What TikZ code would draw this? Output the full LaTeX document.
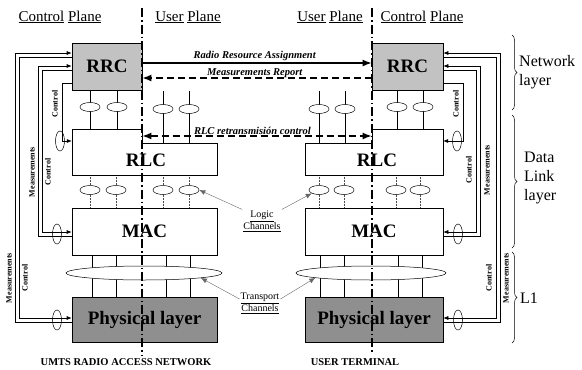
\documentclass[tikz,border=0pt]{standalone}
\usepackage{fontspec}
\setmainfont{Liberation Serif}
\usetikzlibrary{positioning,arrows.meta,shapes.geometric,decorations.pathreplacing}
\tikzset{
  stack/.style  ={rectangle, draw=black, line width=0.6pt, fill=white, inner sep=0pt},
  shade1/.style ={stack, fill=black!24},
  shade2/.style ={stack, fill=black!44},
  outline/.style={draw=black, line width=0.6pt, fill=white},
  big/.style    ={font=\fontsize{19}{19}\selectfont\bfseries, inner sep=0pt},
  chan/.style   ={ellipse, draw=black, line width=0.5pt, fill=white,
                  minimum width=20pt, minimum height=9pt, inner sep=0pt},
  tube/.style   ={ellipse, draw=black, line width=0.5pt,
                  minimum width=9pt, minimum height=20pt, inner sep=0pt},
  bundle/.style ={ellipse, draw=black, line width=0.5pt, fill=white,
                  minimum width=156pt, minimum height=14pt, inner sep=0pt},
  wire/.style   ={draw=black, line width=0.5pt},
  dwire/.style  ={draw=black!70, line width=0.5pt, densely dotted},
  ctl/.style    ={draw=black, line width=0.6pt, -{Latex[length=5pt,width=4pt]}},
  plane/.style  ={draw=black, line width=1.3pt,
                  dash pattern=on 9pt off 3pt on 1.5pt off 3pt},
  peer/.style   ={draw=black, line width=1.6pt, -{Latex[length=9pt,width=7pt]}},
  dpeer/.style  ={peer, dash pattern=on 7pt off 4pt},
  twoway/.style ={dpeer, {Latex[length=9pt,width=7pt]}-{Latex[length=9pt,width=7pt]}},
  msg/.style    ={font=\fontsize{10.5}{11}\selectfont\bfseries\itshape, inner sep=0pt},
  side/.style   ={font=\fontsize{8}{8}\selectfont\bfseries, rotate=90, inner sep=0pt},
  head/.style   ={font=\fontsize{15}{15}\selectfont, inner sep=0pt},
  foot/.style   ={font=\fontsize{10.5}{11}\selectfont\bfseries, inner sep=0pt},
  note/.style   ={font=\fontsize{10}{12}\selectfont, align=center, inner sep=1pt},
  ptr/.style    ={draw=black!60, line width=0.4pt, -{Latex[length=6pt,width=5pt]}},
  layerlbl/.style={font=\fontsize{16}{19}\selectfont, align=left, anchor=west, inner sep=0pt},
  brc/.style    ={draw=black, line width=0.5pt, decorate,
                  decoration={brace, amplitude=5pt}}
}
\begin{document}
\begin{tikzpicture}[x=1pt,y=-1pt]
\useasboundingbox (0,0) rectangle (582,370);

%% ---- Plane headers -------------------------------------------------
\node[head] (cpL) at (60,17) {\underline{Control} \underline{Plane}};
\node[head] (upL) at (188,17) {\underline{User} \underline{Plane}};
\node[head] (upR) at (330,17) {\underline{User} \underline{Plane}};
\node[head] (cpR) at (422,17) {\underline{Control} \underline{Plane}};

%% ---- Channel stubs -------------------------------------------------
\foreach \x [count=\i] in {90,117} {
  \draw[wire] (\x,90) -- (\x,129);
  \node[chan] (ccL\i) at (\x,107) {};
}
\foreach \x [count=\i] in {163,189} {
  \draw[wire] (\x,91) -- (\x,143);
  \node[chan] (cuL\i) at (\x,109) {};
}
\foreach \x [count=\i] in {319,345} {
  \draw[wire] (\x,91) -- (\x,143);
  \node[chan] (cuR\i) at (\x,109) {};
}
\foreach \x [count=\i] in {397,423} {
  \draw[wire] (\x,90) -- (\x,129);
  \node[chan] (ccR\i) at (\x,107) {};
}
\foreach \x [count=\i] in {90,116,163,189} {
  \draw[dwire] (\x,175) -- (\x,208);
  \node[chan] (lcL\i) at (\x,190) {};
}
\foreach \x [count=\i] in {319,344,396,420} {
  \draw[dwire] (\x,175) -- (\x,208);
  \node[chan] (lcR\i) at (\x,190) {};
}
\foreach \x in {92,116,166,190,320,344,398,422}
  \draw[wire] (\x,255) -- (\x,297);
\node[bundle] (trL) at (144,273) {};
\node[bundle, minimum width=150pt] (trR) at (371,273) {};

%% ---- UMTS radio access network stack -------------------------------
\node[shade1, big, minimum width=70pt, minimum height=47pt] (rrcL) at (107,66.5) {RRC};
\draw[outline] (72,129) -- (142,129) -- (142,143) -- (217,143) -- (217,175)
  -- (72,175) -- cycle;
\node[minimum width=145pt, minimum height=46pt, inner sep=0pt] (rlcL) at (144.5,152) {};
\node[big] (rlcLtxt) at (146,160) {RLC};
\node[stack, big, minimum width=145pt, minimum height=47pt] (macL) at (144.5,231.5) {MAC};
\node[shade2, big, minimum width=145pt, minimum height=45pt] (physL) at (144.5,319.5)
  {Physical layer};

%% ---- User terminal stack -------------------------------------------
\node[shade1, big, minimum width=71pt, minimum height=47pt] (rrcR) at (407.5,66.5) {RRC};
\draw[outline] (305,143) -- (372,143) -- (372,129) -- (443,129) -- (443,175)
  -- (305,175) -- cycle;
\node[minimum width=138pt, minimum height=46pt, inner sep=0pt] (rlcR) at (374,152) {};
\node[big] (rlcRtxt) at (377,160) {RLC};
\node[stack, big, minimum width=138pt, minimum height=47pt] (macR) at (374,231.5) {MAC};
\node[shade2, big, minimum width=138pt, minimum height=45pt] (physR) at (374,319.5)
  {Physical layer};

%% ---- Peer to peer signalling ---------------------------------------
\draw[peer] (rrcL.east |- 0,63) --
  node[msg, above=1.5pt, pos=0.49] (rraLbl) {Radio Resource Assignment}
  (rrcR.west |- 0,63);
\draw[dpeer] (rrcR.west |- 0,78) --
  node[msg, above=-1pt, pos=0.51] (mrLbl) {Measurements Report}
  (rrcL.east |- 0,78);
\draw[twoway] (rrcL.east |- 0,136) --
  node[msg, above=1pt, pos=0.48] (rtxLbl) {RLC retransmisión control}
  (rrcR.west |- 0,136);

%% ---- Control / measurement loops, network side ---------------------
\draw[ctl] (physL.west |- 0,322) -| (15,53) -- (rrcL.west |- 0,53);
\draw[ctl] (rrcL.west |- 0,57) -| (19,318) -- (physL.west |- 0,318);
\draw[ctl] (macL.west |- 0,236) -| (38,66) -- (rrcL.west |- 0,66);
\draw[ctl] (rrcL.west |- 0,70) -| (42,232) -- (macL.west |- 0,232);
\draw[ctl] (rrcL.west |- 0,83) -| (62,141) -- (rlcL.west |- 0,141);
\node[tube] (tpL) at (57,320) {};
\node[tube] (tmL) at (57,234) {};
\node[tube] (trlL) at (60,141) {};
\node[side] (msAL) at (9,278) {Measurements};
\node[side] (ctAL) at (25,278) {Control};
\node[side] (msBL) at (32,172) {Measurements};
\node[side] (ctBL) at (48,172) {Control};
\node[side] (ctCL) at (55,104) {Control};

%% ---- Control / measurement loops, terminal side --------------------
\draw[ctl] (physR.east |- 0,322) -| (500,53) -- (rrcR.east |- 0,53);
\draw[ctl] (rrcR.east |- 0,57) -| (496,318) -- (physR.east |- 0,318);
\draw[ctl] (macR.east |- 0,236) -| (480,66) -- (rrcR.east |- 0,66);
\draw[ctl] (rrcR.east |- 0,70) -| (476,232) -- (macR.east |- 0,232);
\draw[ctl] (rrcR.east |- 0,83) -| (463,141) -- (rlcR.east |- 0,141);
\node[tube] (tpR) at (458,320) {};
\node[tube] (tmR) at (458,234) {};
\node[tube] (trlR) at (457,141) {};
\node[side] (ctAR) at (489,278) {Control};
\node[side] (msAR) at (506,278) {Measurements};
\node[side] (ctBR) at (469,170) {Control};
\node[side] (msBR) at (487,170) {Measurements};
\node[side] (ctCR) at (456,104) {Control};

%% ---- Channel callouts ----------------------------------------------
\node[note] (logicLbl) at (262,221) {\underline{Logic}\\\underline{Channels}};
\draw[ptr] (logicLbl.north west) -- (lcL4.east);
\draw[ptr] (logicLbl.north east) -- (lcR1.south west);
\node[note] (trLbl) at (260,303) {\underline{Transport}\\\underline{Channels}};
\draw[ptr] ([yshift=4pt]trLbl.west) -- (trL.-5);
\draw[ptr] ([yshift=4pt]trLbl.east) -- (trR.-175);

%% ---- Plane separators ----------------------------------------------
\draw[plane] (142,8) -- (142,355);
\draw[plane] (372,8) -- (372,352);

%% ---- Layer braces --------------------------------------------------
\draw[brc] (512,35) -- (512,110);
\draw[brc] (512,115) -- (512,248);
\draw[brc] (512,252) -- (512,343);
\node[layerlbl] (netLbl) at (519,72) {Network\\layer};
\node[layerlbl] (dllLbl) at (524,178) {Data\\Link\\layer};
\node[layerlbl] (l1Lbl) at (520,298) {L1};

%% ---- Footers -------------------------------------------------------
\node[foot] (ranLbl) at (126,362) {UMTS RADIO ACCESS NETWORK};
\node[foot] (ueLbl) at (355,362) {USER TERMINAL};
\end{tikzpicture}
\end{document}
